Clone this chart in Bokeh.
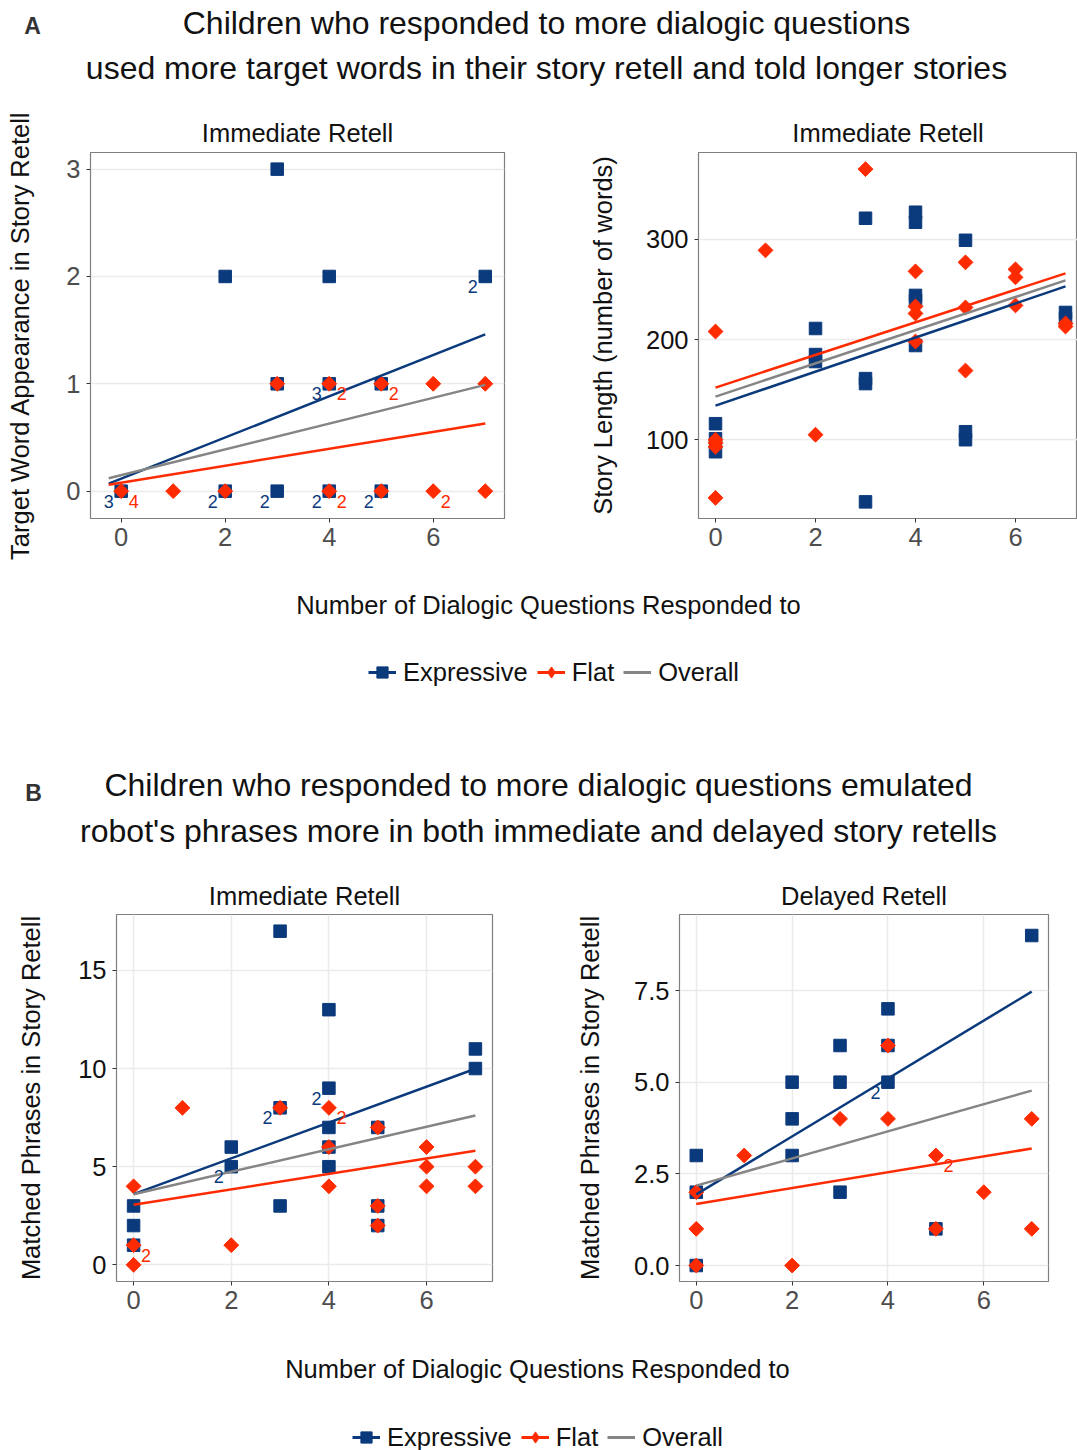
import math
from bokeh.plotting import figure
from bokeh.layouts import column, row
from bokeh.models import Range1d, Legend, LegendItem, PrintfTickFormatter
from bokeh.core.properties import value
from bokeh.embed import file_html
from bokeh.resources import INLINE

BLUE = "#0B3A7C"
RED = "#FF2B00"
GRAY = "#858585"
FONT = "Liberation Sans"
AX_FS = "25.5px"

# ---------------- texts ----------------
title_a = ["Children who responded to more dialogic questions",
           "used more target words in their story retell and told longer stories"]
title_b = ["Children who responded to more dialogic questions emulated",
           "robot's phrases more in both immediate and delayed story retells"]
x_label = "Number of Dialogic Questions Responded to"
legend_labels = ["Expressive", "Flat", "Overall"]

# ---------------- data ----------------
# Panel A1: target word appearance (immediate retell)
a1_exp_x = [0, 2, 2, 3, 3, 3, 4, 4, 4, 5, 5, 7]
a1_exp_y = [0, 0, 2, 3, 1, 0, 2, 1, 0, 1, 0, 2]
a1_exp_n = [3, 2, 1, 1, 1, 2, 1, 3, 2, 1, 2, 2]
a1_flat_x = [0, 1, 2, 3, 4, 4, 5, 5, 6, 6, 7, 7]
a1_flat_y = [0, 0, 0, 1, 1, 0, 1, 0, 1, 0, 1, 0]
a1_flat_n = [4, 1, 1, 1, 2, 2, 2, 1, 1, 2, 1, 1]
a1_fit_x = [-0.24, 7]
a1_fit_exp = [0.07, 1.46]
a1_fit_flat = [0.06, 0.63]
a1_fit_all = [0.12, 0.99]
a1_yticks = [0, 1, 2, 3]

# Panel A2: story length (immediate retell)
a2_exp_x = [0, 0, 0, 2, 2, 2, 3, 3, 3, 3, 4, 4, 4, 4, 4, 5, 5, 5, 7, 7]
a2_exp_y = [116, 101, 88, 211, 185, 178, 321, 161, 156, 38, 327, 317, 244, 239, 194, 299, 108, 100, 227, 221]
a2_exp_n = [1] * 20
a2_flat_x = [0, 0, 0, 0, 0, 1, 2, 3, 4, 4, 4, 4, 5, 5, 5, 6, 6, 6, 7, 7]
a2_flat_y = [208, 100, 97, 93, 42, 289, 105, 370, 268, 233, 226, 198, 277, 232, 169, 270, 262, 234, 216, 213]
a2_flat_n = [1] * 20
a2_fit_x = [0, 7]
a2_fit_exp = [134, 253]
a2_fit_flat = [152, 266]
a2_fit_all = [143, 259]
a2_yticks = [100, 200, 300]

# Panel B1: matched phrases (immediate retell)
b1_exp_x = [0, 0, 0, 2, 2, 3, 3, 3, 4, 4, 4, 4, 4, 5, 5, 5, 7, 7]
b1_exp_y = [3, 2, 1, 6, 5, 17, 8, 3, 13, 9, 7, 6, 5, 7, 3, 2, 11, 10]
b1_exp_n = [1, 1, 1, 1, 2, 1, 2, 1, 1, 2, 1, 1, 1, 1, 1, 1, 1, 1]
b1_flat_x = [0, 0, 0, 1, 2, 3, 4, 4, 4, 5, 5, 5, 6, 6, 6, 7, 7]
b1_flat_y = [4, 1, 0, 8, 1, 8, 8, 6, 4, 7, 3, 2, 6, 5, 4, 5, 4]
b1_flat_n = [1, 2, 1, 1, 1, 1, 2, 1, 1, 1, 1, 1, 1, 1, 1, 1, 1]
b1_fit_x = [0, 7]
b1_fit_exp = [3.6, 9.99]
b1_fit_flat = [3.06, 5.81]
b1_fit_all = [3.6, 7.61]
b1_yticks = [0, 5, 10, 15]

# Panel B2: matched phrases (delayed retell)
b2_exp_x = [0, 0, 0, 2, 2, 2, 3, 3, 3, 4, 4, 4, 5, 7]
b2_exp_y = [3, 2, 0, 5, 4, 3, 6, 5, 2, 7, 6, 5, 1, 9]
b2_exp_n = [1, 1, 1, 1, 1, 1, 1, 1, 1, 1, 1, 2, 1, 1]
b2_flat_x = [0, 0, 0, 1, 2, 3, 4, 4, 5, 5, 6, 7, 7]
b2_flat_y = [2, 1, 0, 3, 0, 4, 6, 4, 3, 1, 2, 4, 1]
b2_flat_n = [1, 1, 1, 1, 1, 1, 1, 1, 2, 1, 1, 1, 1]
b2_fit_x = [0, 7]
b2_fit_exp = [1.94, 7.47]
b2_fit_flat = [1.68, 3.19]
b2_fit_all = [2.18, 4.77]
b2_yticks = [0, 2.5, 5, 7.5]

x_ticks = [0, 2, 4, 6]


def panel(title, ylabel, xr, yr, yticks, ex, ey, en, fx, fy, fn, fit_x, fe, ff, fa,
          fw, fh, mbl, mbr, mbt, t_standoff, t_offset, lab_standoff, vgrid,
          ytick_color, yfmt=None):
    p = figure(frame_width=fw, frame_height=fh,
               x_range=Range1d(xr[0], xr[1]), y_range=Range1d(yr[0], yr[1]),
               min_border_left=mbl, min_border_right=mbr, min_border_top=mbt,
               min_border_bottom=44, toolbar_location=None, output_backend="svg",
               background_fill_color="white", border_fill_color="white")
    p.title.text = title
    p.title.align = "center"
    p.title.text_font = FONT
    p.title.text_font_size = AX_FS
    p.title.text_font_style = "normal"
    p.title.text_color = "#111111"
    p.title.standoff = t_standoff
    p.title.offset = t_offset
    p.outline_line_color = "#7f7f7f"
    p.outline_line_width = 1.2

    p.xaxis.ticker = x_ticks
    p.yaxis.ticker = yticks
    if yfmt:
        p.yaxis.formatter = PrintfTickFormatter(format=yfmt)
    for ax in (p.xaxis[0], p.yaxis[0]):
        ax.axis_line_color = None
        ax.major_tick_line_color = "#333333"
        ax.major_tick_line_width = 1
        ax.major_tick_out = 4
        ax.major_tick_in = 0
        ax.minor_tick_line_color = None
        ax.major_label_text_font = FONT
        ax.major_label_text_font_size = AX_FS
    p.xaxis.major_label_text_color = "#4d4d4d"
    p.xaxis.major_label_standoff = 5
    p.yaxis.major_label_text_color = ytick_color
    p.yaxis.major_label_standoff = 6
    p.yaxis.axis_label = ylabel
    p.yaxis.axis_label_text_font = FONT
    p.yaxis.axis_label_text_font_size = AX_FS
    p.yaxis.axis_label_text_font_style = "normal"
    p.yaxis.axis_label_text_color = "#111111"
    p.yaxis.axis_label_standoff = lab_standoff

    p.ygrid.grid_line_color = "#ebebeb"
    p.ygrid.grid_line_width = 1.5
    p.xgrid.grid_line_color = "#ebebeb" if vgrid else None
    p.xgrid.grid_line_width = 1.5

    p.scatter(ex, ey, marker="square", size=12.5, fill_color=BLUE, line_color=BLUE)
    p.scatter(fx, fy, marker="square", size=10.5, angle=math.pi / 4,
              fill_color=RED, line_color=RED)
    p.line(fit_x, fe, line_color=BLUE, line_width=2.5)
    p.line(fit_x, fa, line_color=GRAY, line_width=2.5)
    p.line(fit_x, ff, line_color=RED, line_width=2.5)

    ebx = [x for x, n in zip(ex, en) if n > 1]
    eby = [y for y, n in zip(ey, en) if n > 1]
    ebt = [str(n) for n in en if n > 1]
    if ebx:
        p.text(x=ebx, y=eby, text=ebt, x_offset=-12.5, y_offset=10,
               text_font=value(FONT), text_font_size="18px", text_color=BLUE,
               text_align="center", text_baseline="middle")
    fbx = [x for x, n in zip(fx, fn) if n > 1]
    fby = [y for y, n in zip(fy, fn) if n > 1]
    fbt = [str(n) for n in fn if n > 1]
    if fbx:
        p.text(x=fbx, y=fby, text=fbt, x_offset=12.5, y_offset=10,
               text_font=value(FONT), text_font_size="18px", text_color=RED,
               text_align="center", text_baseline="middle")
    return p


def blank(h):
    p = figure(width=1077, height=h, x_range=Range1d(0, 1077), y_range=Range1d(h, 0),
               min_border=0, toolbar_location=None, output_backend="svg",
               x_axis_type=None, y_axis_type=None,
               background_fill_color="white", border_fill_color="white")
    p.outline_line_color = None
    p.xgrid.visible = False
    p.ygrid.visible = False
    return p


def add_text(p, xs, ys, texts, size, bold=False, color="#111111"):
    p.text(x=xs, y=ys, text=texts, text_font=value(FONT), text_font_size=size,
           text_font_style="bold" if bold else "normal", text_color=color,
           text_align="center", text_baseline="middle")


def add_legend(p, left, bottom):
    # proxy renderers kept outside the visible area; only their legend keys show
    px, py = [-60, -30], [-60, -60]
    r1 = p.line(px, py, line_color=BLUE, line_width=3)
    r2 = p.scatter(px[:1], py[:1], marker="square", fill_color=BLUE, line_color=BLUE)
    r3 = p.line(px, py, line_color=RED, line_width=3)
    r4 = p.scatter(px[:1], py[:1], marker="diamond", fill_color=RED, line_color=RED)
    r5 = p.line(px, py, line_color=GRAY, line_width=3)
    leg = Legend(items=[LegendItem(label=legend_labels[0], renderers=[r1, r2]),
                        LegendItem(label=legend_labels[1], renderers=[r3, r4]),
                        LegendItem(label=legend_labels[2], renderers=[r5])],
                 orientation="horizontal", location=(left, bottom),
                 glyph_width=28, glyph_height=30, label_standoff=7, spacing=9,
                 padding=0, margin=0, border_line_color=None,
                 background_fill_alpha=0,
                 label_text_font=FONT, label_text_font_size=AX_FS,
                 label_text_color="#111111")
    p.add_layout(leg, "center")


# ---------------- header A ----------------
head_a = blank(108)
add_text(head_a, [32], [25], ["A"], "23px", bold=True, color="#333333")
add_text(head_a, [546, 546], [22, 67], title_a, "32px")

# ---------------- row A ----------------
a1 = panel("Immediate Retell", "Target Word Appearance in Story Retell",
           (-0.59, 7.37), (-0.255, 3.155), a1_yticks,
           a1_exp_x, a1_exp_y, a1_exp_n, a1_flat_x, a1_flat_y, a1_flat_n,
           a1_fit_x, a1_fit_exp, a1_fit_flat, a1_fit_all,
           414, 366, 90, 20, 44, 11, 0, 29, False, "#4d4d4d")
a2 = panel("Immediate Retell", "Story Length (number of words)",
           (-0.34, 7.24), (21.4, 386.6), a2_yticks,
           a2_exp_x, a2_exp_y, a2_exp_n, a2_flat_x, a2_flat_y, a2_flat_n,
           a2_fit_x, a2_fit_exp, a2_fit_flat, a2_fit_all,
           379, 366, 174, 0, 44, 11, 0, 26, False, "#111111")

# ---------------- middle ----------------
mid = blank(309)
add_text(mid, [548], [42], [x_label], AX_FS)
add_legend(mid, 368, 184)
add_text(mid, [33], [230], ["B"], "23px", bold=True, color="#333333")
add_text(mid, [538, 538], [222, 268], title_b, "32px")

# ---------------- row B ----------------
b1 = panel("Immediate Retell", "Matched Phrases in Story Retell",
           (-0.35, 7.35), (-0.85, 17.85), b1_yticks,
           b1_exp_x, b1_exp_y, b1_exp_n, b1_flat_x, b1_flat_y, b1_flat_n,
           b1_fit_x, b1_fit_exp, b1_fit_flat, b1_fit_all,
           376, 367, 116, 20, 43, 10, 0, 30, True, "#111111")
b2 = panel("Delayed Retell", "Matched Phrases in Story Retell",
           (-0.35, 7.35), (-0.436, 9.573), b2_yticks,
           b2_exp_x, b2_exp_y, b2_exp_n, b2_flat_x, b2_flat_y, b2_flat_n,
           b2_fit_x, b2_fit_exp, b2_fit_flat, b2_fit_all,
           369, 367, 167, 29, 43, 10, 0, 27, True, "#111111", "%.1f")

# ---------------- bottom ----------------
bot = blank(125)
add_text(bot, [537], [43], [x_label], AX_FS)
add_legend(bot, 352, -2)

layout = column(head_a, row(a1, a2), mid, row(b1, b2), bot)
open("out.html", "w").write(file_html(layout, INLINE))
